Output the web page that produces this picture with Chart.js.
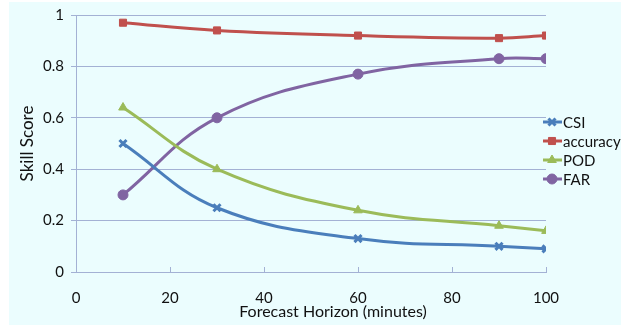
<!DOCTYPE html>
<html>
<head>
<meta charset="utf-8">
<script src="https://cdn.jsdelivr.net/npm/chart.js@4"></script>
<style>
  html, body { margin: 0; padding: 0; background: #fff; }
  #box { position: absolute; left: 9px; top: 2px; width: 612px; height: 323px; background: #ebfdfe; }
</style>
</head>
<body>
<div id="box"><canvas id="skillChart" width="612" height="323"></canvas></div>
<script>
// ================= DATA =================
const horizons = [10, 30, 60, 90, 100];
const csi = [0.5, 0.25, 0.13, 0.1, 0.09];
const accuracy = [0.97, 0.94, 0.92, 0.91, 0.92];
const pod = [0.64, 0.4, 0.24, 0.18, 0.16];
const far = [0.3, 0.6, 0.77, 0.83, 0.83];
const seriesNames = ['CSI', 'accuracy', 'POD', 'FAR'];
const xTitle = 'Forecast Horizon (minutes)';
const yTitle = 'Skill Score';

const gridColor = '#a3b1d4';
const font = 'Lato, "Open Sans", sans-serif';

function makeSet(name, values, color, style) {
    return {
        label: name,
        data: horizons.map((x, i) => ({ x: x, y: values[i] })),
        showLine: true,
        borderColor: color,
        backgroundColor: color,
        borderWidth: 3,
        tension: 0.4,
        pointStyle: style,
        pointRadius: 5,
        pointBorderWidth: style === 'crossRot' ? 3 : 1
    };
}

// x tick marks point up into the plot, x title (offset right like the original), legend
const extras = {
    id: 'extras',
    afterDraw(chart) {
        const c = chart.ctx;
        const xs = chart.scales.x;
        const area = chart.chartArea;
        c.save();
        c.strokeStyle = gridColor;
        c.lineWidth = 1;
        xs.ticks.forEach(t => {
            const px = Math.round(xs.getPixelForValue(t.value)) + 0.5;
            c.beginPath();
            c.moveTo(px, area.bottom);
            c.lineTo(px, area.bottom - 5);
            c.stroke();
        });

        c.fillStyle = '#111';
        c.font = '16px ' + font;
        c.textAlign = 'center';
        c.textBaseline = 'middle';
        c.fillText(xTitle, 324, 310);

        const rows = [120, 139, 158, 177];
        c.font = '15px ' + font;
        c.textAlign = 'left';
        chart.data.datasets.forEach((ds, i) => {
            const y = rows[i];
            c.strokeStyle = ds.borderColor;
            c.lineWidth = 3;
            c.beginPath();
            c.moveTo(534, y);
            c.lineTo(553, y);
            c.stroke();
            c.fillStyle = ds.borderColor;
            c.strokeStyle = ds.borderColor;
            c.lineWidth = ds.pointBorderWidth;
            Chart.helpers.drawPoint(c, {
                pointStyle: ds.pointStyle,
                radius: ds.pointRadius,
                borderWidth: ds.pointBorderWidth
            }, 543, y);
            c.fillStyle = '#111';
            c.fillText(ds.label, 554, y + 1);
        });
        c.restore();
    }
};

const ctx = document.getElementById('skillChart').getContext('2d');

new Chart(ctx, {
    type: 'scatter',
    data: {
        datasets: [
            makeSet(seriesNames[0], csi, '#4a7ebb', 'crossRot'),
            makeSet(seriesNames[1], accuracy, '#c0504d', 'rect'),
            makeSet(seriesNames[2], pod, '#9bbb59', 'triangle'),
            makeSet(seriesNames[3], far, '#8064a2', 'circle')
        ]
    },
    options: {
        responsive: false,
        animation: false,
        layout: { padding: { top: 13, right: 75, left: 0, bottom: 0 } },
        plugins: { legend: { display: false }, tooltip: { enabled: false } },
        scales: {
            x: {
                min: 0, max: 100,
                ticks: { stepSize: 20, color: '#111', font: { family: font, size: 15 }, padding: 9 },
                grid: { display: false },
                border: { color: gridColor, width: 1 },
                afterFit(s) { s.height = 53; s.paddingLeft = 0; s.paddingRight = 0; }
            },
            y: {
                min: 0, max: 1,
                ticks: {
                    stepSize: 0.2, color: '#111', font: { family: font, size: 15 }, padding: 7,
                    callback: v => String(Math.round(v * 10) / 10)
                },
                grid: { color: gridColor, tickLength: 5 },
                border: { color: gridColor, width: 1 },
                title: { display: true, text: yTitle, color: '#111', font: { family: font, size: 17 }, padding: { top: 8, bottom: 0 } },
                afterFit(s) { s.width = 67; s.paddingTop = 0; s.paddingBottom = 0; }
            }
        }
    },
    plugins: [extras]
});
</script>
</body>
</html>
